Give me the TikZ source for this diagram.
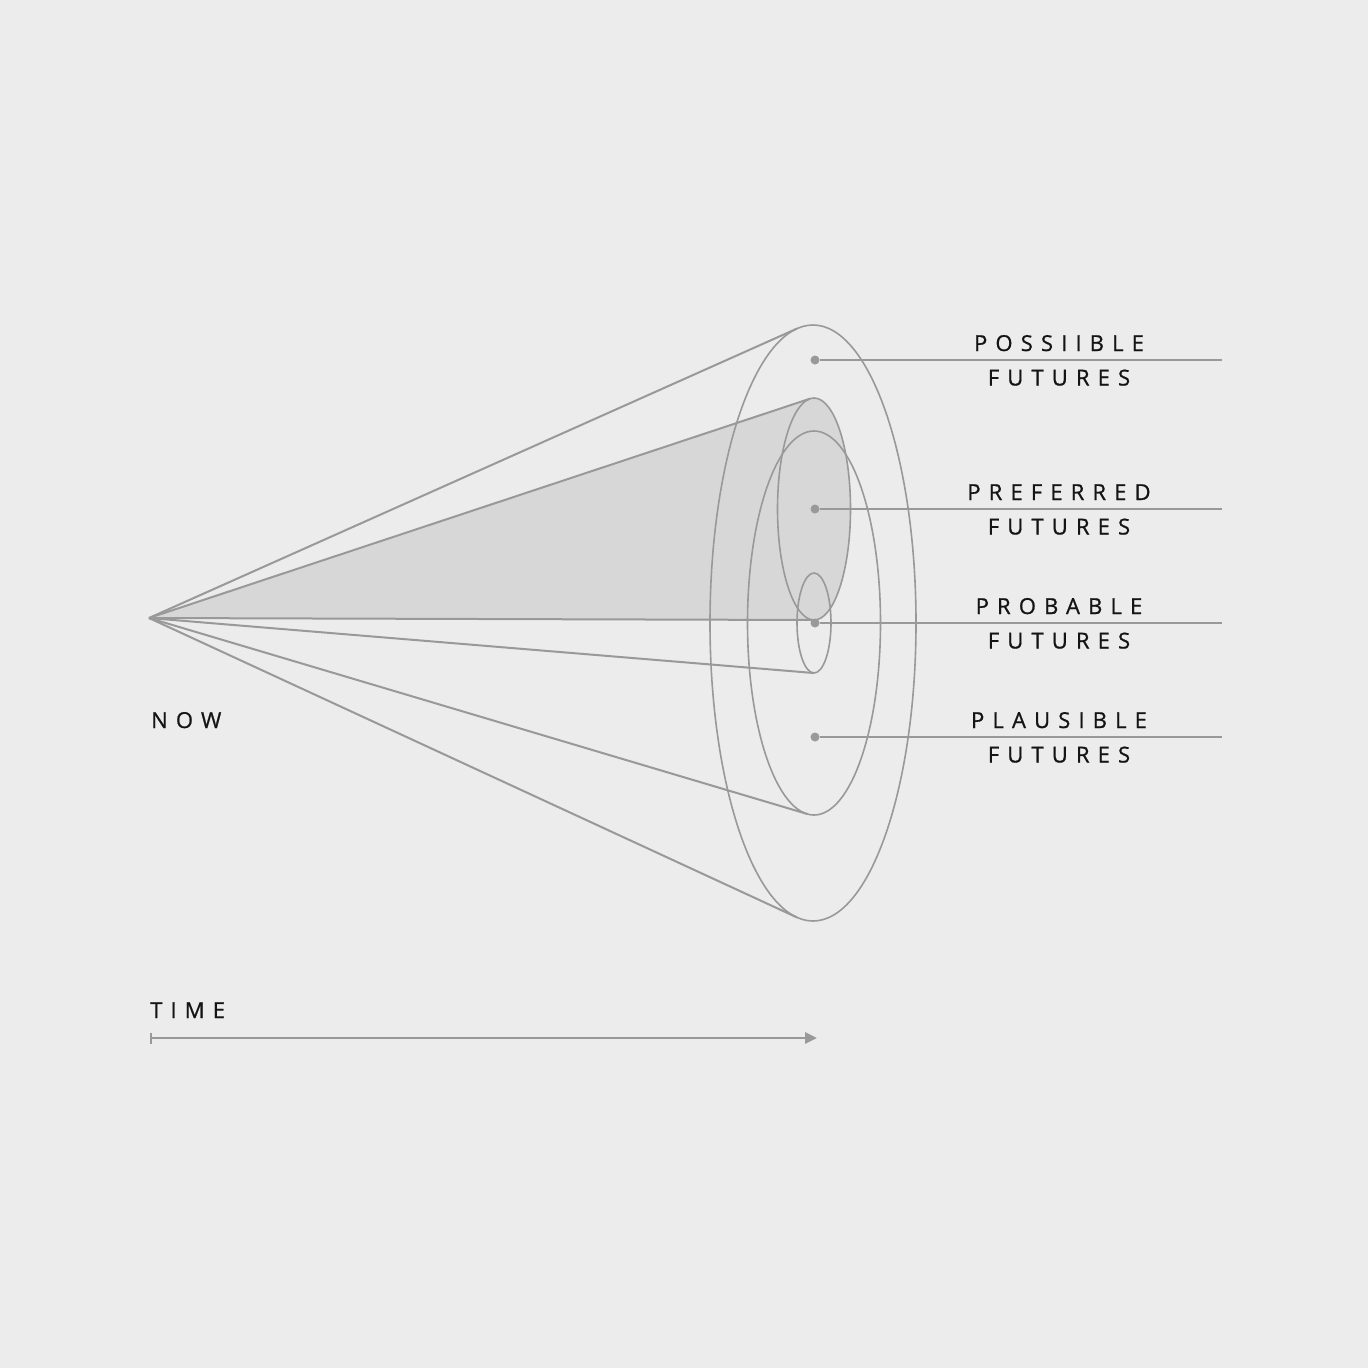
\documentclass[tikz,border=0pt]{standalone}
\usepackage{fontspec}
\newfontfamily\capsfont{Open Sans}[LetterSpace=37, FakeBold=0.8]
\usetikzlibrary{arrows.meta}

\definecolor{paper}{HTML}{ECECEC}
\definecolor{conegray}{HTML}{999999}
\definecolor{wedgegray}{HTML}{D7D7D7}
\definecolor{ink}{HTML}{141414}

\tikzset{
    rim/.style={draw=conegray, line width=1.6pt},
    ray/.style={draw=conegray, line width=2pt},
    leader/.style={draw=conegray, line width=2pt},
    futuredot/.style={circle, fill=conegray, inner sep=0pt, minimum size=9pt},
    caption/.style={font=\capsfont\fontsize{22}{22}\selectfont, text=ink, inner sep=0pt},
    tag/.style={caption, anchor=base}
}

\begin{document}
\begin{tikzpicture}[x=1pt,y=-1pt]
        \fill[paper] (0,0) rectangle (1368,1368);
        \useasboundingbox (0,0) rectangle (1368,1368);
        \coordinate (now) at (149,618);
        % tangent points of the cone rays
        \coordinate (possible top) at (797,328.6);
        \coordinate (possible bottom) at (797,917.4);
        \coordinate (preferred top) at (810,398.7);
        \coordinate (preferred bottom) at (814,620);
        \coordinate (plausible bottom) at (807.4,814);
        \coordinate (probable bottom) at (813.6,673);
        % shaded preferred cone
        \fill[wedgegray] (now) -- (preferred top) -- (preferred bottom) -- cycle;
        \fill[wedgegray] (814,509) ellipse [x radius=36.5, y radius=111];
        \foreach \end in {possible top, possible bottom, preferred top, preferred bottom, plausible bottom, probable bottom}
            \draw[ray] (now) -- (\end);
        \draw[rim] (813,623) ellipse [x radius=103, y radius=298];
        \draw[rim] (814,623) ellipse [x radius=66.5, y radius=192];
        \draw[rim] (814,509) ellipse [x radius=36.5, y radius=111];
        \draw[rim] (814,623) ellipse [x radius=17, y radius=50];
        % labels on the right
        \foreach \name/\y/\word in {possible/360/POSSIIBLE, preferred/509/PREFERRED, probable/623/PROBABLE, plausible/737/PLAUSIBLE} {
            \node[futuredot] (\name) at (815,\y) {};
            \coordinate (\name end) at (1222,\y);
            \draw[leader] (\name) -- (\name end);
            \node[tag] (\name word) at (1059,\y-9) {\word};
            \node[tag] (\name futures) at (1059,\y+25.5) {FUTURES};
        }
        \node[caption, anchor=base west] (nowlabel) at (151,728) {NOW};
        \node[caption, anchor=base west] (timelabel) at (150,1018) {TIME};
        \coordinate (time start) at (150,1038);
        \coordinate (time end) at (817,1038);
        \draw[conegray, line width=2.8pt, {Bar[width=11pt, line width=1.5pt]}-{Triangle[length=12pt, width=11pt]}] (time start) -- (time end);
    \end{tikzpicture}
\end{document}
